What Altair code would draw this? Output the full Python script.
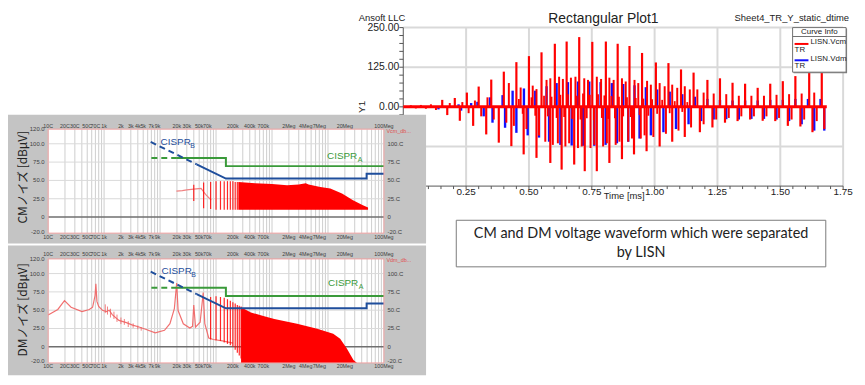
import altair as alt
import pandas as pd

# ------------------------------------------------------------------ DATA
# Transient waveform (top right): time [ms], voltage
vcm_pk_t = [0.155, 0.205, 0.253, 0.300, 0.350, 0.400, 0.450, 0.500, 0.550, 0.603, 0.650, 0.700, 0.752, 0.806, 0.853, 0.900, 0.950, 1.005, 1.055, 1.105, 1.155, 1.210, 1.260, 1.310, 1.360, 1.410, 1.460, 1.510, 1.560, 1.615, 1.665]
vcm_pk_v = [22, 28, 45, 64, 86, 111, 141, 160, 172, 199, 206, 220, 205, 206, 199, 192, 170, 140, 138, 118, 108, 85, 90, 76, 73, 60, 73, 81, 97, 112, 112]
vcm_tr_t = [0.175, 0.225, 0.278, 0.330, 0.380, 0.430, 0.479, 0.530, 0.585, 0.630, 0.680, 0.722, 0.770, 0.820, 0.870, 0.918, 0.968, 1.020, 1.070, 1.120, 1.180, 1.230, 1.280, 1.330, 1.380, 1.430, 1.480, 1.530, 1.580, 1.628, 1.675]
vcm_tr_v = [-26, -44, -60, -87, -113, -124, -150, -161, -177, -198, -182, -203, -203, -177, -165, -150, -140, -125, -110, -95, -80, -65, -50, -45, -40, -44, -45, -60, -62, -80, -70]
vcm_p2_t = [0.03, 0.07, 0.11, 0.185, 0.235, 0.285, 0.335, 0.42, 0.467, 0.515, 0.53, 0.57, 0.585, 0.62, 0.635, 0.667, 0.685, 0.72, 0.735, 0.77, 0.787, 0.82, 0.837, 0.87, 0.885, 0.92, 0.935, 0.97, 0.985, 1.02, 1.04, 1.07, 1.09, 1.12, 1.14, 1.17, 1.195, 1.235, 1.285, 1.335, 1.385, 1.435, 1.485, 1.535, 1.585, 1.635]
vcm_p2_v = [5, 6, 8, 12, 15, 20, 30, 75, 61, 67, 56, 85, 90, 95, 88, 92, 95, 90, 85, 95, 88, 92, 85, 90, 80, 85, 75, 82, 70, 75, 65, 70, 60, 65, 55, 55, 45, 42, 40, 35, 35, 35, 38, 40, 42, 45]
vcm_n2_t = [0.05, 0.09, 0.13, 0.26, 0.31, 0.36, 0.41, 0.44, 0.49, 0.54, 0.565, 0.595, 0.615, 0.645, 0.66, 0.695, 0.71, 0.745, 0.76, 0.795, 0.81, 0.845, 0.86, 0.895, 0.91, 0.945, 0.96, 0.995, 1.045, 1.095, 1.145, 1.195, 1.245, 1.295, 1.345, 1.395, 1.445, 1.495, 1.545, 1.595, 1.645]
vcm_n2_v = [-5, -6, -10, -20, -30, -40, -50, -60, -70, -90, -110, -120, -115, -125, -115, -130, -125, -130, -120, -125, -115, -120, -110, -110, -100, -100, -90, -95, -85, -75, -65, -55, -40, -35, -30, -30, -30, -35, -40, -40, -45]
vcm_ring_t = [0.46, 0.475, 0.51, 0.525, 0.56, 0.575, 0.59, 0.61, 0.625, 0.64, 0.655, 0.672, 0.69, 0.705, 0.715, 0.73, 0.742, 0.758, 0.775, 0.79, 0.8, 0.815, 0.828, 0.842, 0.858, 0.875, 0.89, 0.905, 0.925, 0.94, 0.955, 0.975, 0.99, 1.01, 1.03, 1.06, 1.08, 1.11, 1.13]
vcm_ring_v = [25, -22, 30, -28, 35, -30, 32, -35, 38, -32, 40, -38, 35, -40, 42, -36, 38, -42, 40, -35, 36, -38, 34, -36, 32, -30, 30, -32, 28, -26, 26, -28, 24, -22, 22, -20, 18, -16, 15]
vdm_p_t = [0.22, 0.27, 0.295, 0.345, 0.395, 0.435, 0.48, 0.525, 0.57, 0.61, 0.655, 0.695, 0.74, 0.785, 0.83, 0.875, 0.92, 0.965, 1.01, 1.06, 1.11, 1.16, 1.21, 1.26, 1.31, 1.36, 1.41, 1.46, 1.51, 1.56, 1.61, 1.66]
vdm_p_v = [8, 12, 16, 30, 37, 51, 58, 51, 65, 75, 78, 80, 80, 78, 75, 72, 68, 62, 55, 48, 40, 32, 25, 22, 20, 20, 20, 22, 22, 25, 25, 25]
vdm_n_t = [0.14, 0.23, 0.32, 0.355, 0.405, 0.45, 0.495, 0.54, 0.58, 0.625, 0.67, 0.715, 0.76, 0.805, 0.85, 0.895, 0.94, 0.985, 1.035, 1.085, 1.135, 1.185, 1.235, 1.285, 1.335, 1.385, 1.435, 1.485, 1.535, 1.585, 1.635, 1.675]
vdm_n_v = [-8, -12, -30, -50, -66, -82, -90, -97, -110, -120, -122, -123, -123, -120, -115, -110, -100, -90, -80, -70, -55, -45, -40, -39, -40, -38, -38, -40, -45, -55, -75, -75]
trace_t = [0.0, 1.685]
trace_v = [0.0, 0.0]
time_ticks = [0.25, 0.50, 0.75, 1.00, 1.25, 1.50, 1.75]
time_tick_labels = ["0.25", "0.50", "0.75", "1.00", "1.25", "1.50", "1.75"]
volt_ticks = [250, 125, 0]
volt_tick_labels = ["250.00", "125.00", "0.00"]

# Spectra (left): frequency [Hz], level [dBuV]
freq_ticks = [100, 200, 300, 500, 700, 1e3, 2e3, 3e3, 4e3, 5e3, 7e3, 9e3, 2e4, 3e4, 5e4, 7e4, 2e5, 4e5, 7e5, 2e6, 4e6, 7e6, 2e7, 1e8]
freq_tick_labels = ["10C", "20C", "30C", "50C", "70C", "1k", "2k", "3k", "4k", "5k", "7k", "9k", "20k", "30k", "50k", "70k", "200k", "400k", "700k", "2Meg", "4Meg", "7Meg", "20Meg", "100Meg"]
db_ticks_left = [120, 100, 75, 50, 25, 0, -20]
db_labels_left = ["120.0", "100.0", "75.0", "50.0", "25.0", "0", "-20.0"]
db_ticks_right = [100, 75, 50, 25, 0, -20]
db_labels_right = ["100.C", "75.C", "50.C", "25.C", "0", "-20.C"]

cm_trace_f = [19600, 25000, 30000, 40000, 54000, 65000, 82000]
cm_trace_db = [35.5, 36, 37, 38, 39, 31, 23]
cm_spike_f = [40000, 60000, 80000, 100000, 120000, 140000, 160000, 180000, 200000, 220000, 240000]
cm_spike_top = [44, 47, 48, 49, 49, 49, 49, 49, 49, 48, 48]
cm_spike_bot = [22, 12, 11, 10, 10, 10, 10, 10, 10, 10, 10]
cm_env_f = [250e3, 500e3, 1e6, 1.86e6, 3e6, 4e6, 4.5e6, 7.3e6, 11e6, 17.8e6, 28e6, 42e6, 52e6]
cm_env_db = [48, 46, 45, 43.5, 44.5, 46, 44.5, 41, 39, 32, 23, 16, 13]
CM_FLOOR = 10

dm_f = [100, 149, 196, 257, 403, 543, 623, 690, 713, 745, 800, 934, 1100, 1230, 1400, 1840, 2500, 3140, 4200, 5500, 8200, 12000, 15000, 18000, 19800, 21000, 26000, 34000, 38000, 40000, 43000, 52000, 59000, 63000, 74000, 90000, 130000, 200000]
dm_db = [43.5, 51, 63, 54, 48, 51, 54, 70, 86, 62, 55, 50, 48, 50, 44, 36, 33, 30, 27, 24, 19, 22.5, 31.5, 52, 87, 49.5, 31.5, 25.6, 28, 57, 27, 33.6, 74, 31.5, 12, 10, 8, 5]
dm_noise_f = [1050, 1150, 1300, 1500, 1700, 2000, 2300, 2700, 3300, 4000, 4600]
dm_noise_top = [58, 55, 52, 48, 44, 40, 38, 35, 32, 29, 27]
dm_noise_bot = [46, 44, 40, 38, 34, 31, 30, 27, 26, 24, 22]
dm_spike_f = [80e3, 100e3, 120e3, 140e3, 160e3, 180e3, 200e3, 220e3, 240e3, 260e3, 280e3]
dm_spike_top = [68, 69, 68, 67, 65, 63, 61, 59, 57, 56, 55]
dm_spike_bot = [10, 9, 8, 6, 4, 2, 0, -4, -8, -12, -16]
dm_env_f = [280e3, 420e3, 700e3, 1.1e6, 2.8e6, 6.4e6, 12.4e6, 16.5e6, 21.7e6, 28.5e6, 33e6]
dm_env_db = [54, 47, 42, 38, 31.5, 24.7, 18, 11, -2.3, -18, -22]
DM_FLOOR = -22

cisprA_dash_f = [7000, 20000]
cisprA_dash_db = [80.5, 80.5]
cisprA_f = [20000, 150000, 150000, 1e8]
cisprA_db = [80.5, 80.5, 69.5, 69.5]
cisprB_dash_f = [6800, 45000]
cisprB_dash_db = [102.5, 72]
cisprB_f = [45000, 150000, 49e6, 49e6, 1e8]
cisprB_db = [72, 52.5, 52.5, 59, 59]

# ------------------------------------------------------------------ STYLE / LAYOUT
FONT = "Liberation Sans"
RED = "#ff0000"
BLUE = "#1010ff"
GREEN = "#3a9a3a"
NAVY = "#1f4e9c"

T_SCALE = alt.Scale(domain=[0, 1.75], range=[399, 843], nice=False, zero=False)
V_SCALE = alt.Scale(domain=[-250, 250], range=[178, 18], nice=False, zero=False)
F_SCALE = alt.Scale(type="log", domain=[100, 1e8], range=[40.5, 379.5], nice=False)
CM_Y = alt.Scale(domain=[-22, 120], range=[225.5, 120.5], nice=False, zero=False)
DM_Y = alt.Scale(domain=[-22, 120], range=[356.5, 251.5], nice=False, zero=False)


def qx(field, scale):
    return alt.X(field, type="quantitative", scale=scale, axis=None)


def qy(field, scale):
    return alt.Y(field, type="quantitative", scale=scale, axis=None)


def one():
    return pd.DataFrame({"k": [0]})


def rect(x, x2, y, y2, fill="white", stroke=None, sw=1.0, fill_opacity=1.0):
    props = dict(fill=fill, fillOpacity=fill_opacity)
    if stroke is not None:
        props.update(stroke=stroke, strokeWidth=sw)
    return alt.Chart(one()).mark_rect(**props).encode(
        x=alt.value(x), x2=alt.value(x2), y=alt.value(y), y2=alt.value(y2))


def seg(x, x2, y, y2, color, sw=1.0):
    return alt.Chart(one()).mark_rule(color=color, strokeWidth=sw).encode(
        x=alt.value(x), x2=alt.value(x2), y=alt.value(y), y2=alt.value(y2))


def label(s, x, y, size, color="#222222", align="left", angle=0, font=FONT, baseline="middle"):
    return alt.Chart(pd.DataFrame({"s": [s]})).mark_text(
        align=align, baseline=baseline, fontSize=size, color=color, angle=angle, font=font
    ).encode(x=alt.value(x), y=alt.value(y), text="s:N")


def xlabels(vals, labels, scale, y, size, color="#333333"):
    df = pd.DataFrame({"v": vals, "s": labels})
    return alt.Chart(df).mark_text(align="center", baseline="middle", fontSize=size, color=color, font=FONT).encode(
        x=qx("v", scale), y=alt.value(y), text="s:N")


def ylabels(vals, labels, scale, x, size, align, color="#333333"):
    df = pd.DataFrame({"v": vals, "s": labels})
    return alt.Chart(df).mark_text(align=align, baseline="middle", fontSize=size, color=color, font=FONT).encode(
        x=alt.value(x), y=qy("v", scale), text="s:N")


def vgrid(vals, scale, y, y2, color, sw=1.0):
    return alt.Chart(pd.DataFrame({"v": vals})).mark_rule(color=color, strokeWidth=sw).encode(
        x=qx("v", scale), y=alt.value(y), y2=alt.value(y2))


def hgrid(vals, scale, x, x2, color, sw=1.0):
    return alt.Chart(pd.DataFrame({"v": vals})).mark_rule(color=color, strokeWidth=sw).encode(
        y=qy("v", scale), x=alt.value(x), x2=alt.value(x2))


def spikes(xs, ys, xscale, yscale, color, sw, base=None, bottoms=None, opacity=1.0):
    df = pd.DataFrame({"x": xs, "y": ys})
    if bottoms is not None:
        df["b"] = bottoms
        y2 = alt.Y2("b")
    else:
        y2 = alt.datum(base)
    return alt.Chart(df).mark_rule(color=color, strokeWidth=sw, opacity=opacity).encode(
        x=qx("x", xscale), y=qy("y", yscale), y2=y2)


def line(xs, ys, xscale, yscale, color, sw, dash=None, opacity=1.0):
    df = pd.DataFrame({"x": xs, "y": ys, "i": list(range(len(xs)))})
    props = dict(color=color, strokeWidth=sw, opacity=opacity)
    if dash:
        props["strokeDash"] = dash
    return alt.Chart(df).mark_line(**props).encode(
        x=qx("x", xscale), y=qy("y", yscale), order="i:Q")


def area(xs, ys, floor, xscale, yscale, color):
    df = pd.DataFrame({"x": xs, "y": ys})
    return alt.Chart(df).mark_area(color=color).encode(
        x=qx("x", xscale), y=qy("y", yscale), y2=alt.datum(floor))


L = []

# ------------------------------------------------------------------ TOP RIGHT: transient plot
minor_v = [-250 + 25 * i for i in range(21)]
minor_t = [0.05 * i for i in range(36)]
L.append(vgrid(time_ticks, T_SCALE, 18, 178, "#d9d9d9", 2))
L.append(hgrid([250, 125, -125], V_SCALE, 399, 843, "#d9d9d9", 2))
L.append(alt.Chart(pd.DataFrame({"v": minor_v})).mark_rule(color="#555555", strokeWidth=1).encode(
    y=qy("v", V_SCALE), x=alt.value(395), x2=alt.value(399)))
L.append(alt.Chart(pd.DataFrame({"v": minor_t})).mark_rule(color="#555555", strokeWidth=1).encode(
    x=qx("v", T_SCALE), y=alt.value(178), y2=alt.value(181)))
L.append(seg(399, 399, 18, 178, "#555555", 1))
L.append(seg(399, 843, 178, 178, "#555555", 1))
L.append(ylabels(volt_ticks, volt_tick_labels, V_SCALE, 395, 10.5, "right", "#222222"))
L.append(xlabels(time_ticks, time_tick_labels, T_SCALE, 184, 10, "#222222"))
L.append(label("Time [ms]", 622, 188, 9.5, align="center"))
L.append(label("Y1", 357, 98, 10, align="center", angle=270))
L.append(label("Rectangular Plot1", 601, 9, 14, align="center"))
L.append(label("Ansoft LLC", 354, 8, 9.5))
L.append(label("Sheet4_TR_Y_static_dtime", 849, 8, 9.5, align="right"))

L.append(spikes(vdm_p_t, vdm_p_v, T_SCALE, V_SCALE, BLUE, 2.4, base=0))
L.append(spikes(vdm_n_t, vdm_n_v, T_SCALE, V_SCALE, BLUE, 2.4, base=0))
L.append(spikes(vcm_ring_t, vcm_ring_v, T_SCALE, V_SCALE, RED, 1.8, base=0))
L.append(spikes(vcm_p2_t, vcm_p2_v, T_SCALE, V_SCALE, RED, 2.0, base=0))
L.append(spikes(vcm_n2_t, vcm_n2_v, T_SCALE, V_SCALE, RED, 2.0, base=0))
L.append(spikes(vcm_pk_t, vcm_pk_v, T_SCALE, V_SCALE, RED, 2.2, base=0))
L.append(spikes(vcm_tr_t, vcm_tr_v, T_SCALE, V_SCALE, RED, 2.2, base=0))
L.append(line(trace_t, trace_v, T_SCALE, V_SCALE, RED, 3))

# legend box
L.append(rect(793, 847, 19, 64, fill="#808080"))
L.append(rect(792, 846, 18, 63, fill="white", stroke="#707070", sw=1))
L.append(seg(792, 846, 27, 27, "#707070", 1))
L.append(label("Curve Info", 819, 22.5, 8, align="center"))
L.append(seg(794, 808, 34.5, 34.5, RED, 2))
L.append(label("LISN.Vcm", 810, 32.5, 8))
L.append(label("TR", 794, 40.5, 8))
L.append(seg(794, 808, 51, 51, BLUE, 2))
L.append(label("LISN.Vdm", 810, 49.5, 8))
L.append(label("TR", 794, 57, 8))

# ------------------------------------------------------------------ LEFT: spectra panels
freq_grid = [m * 10 ** e for e in range(2, 8) for m in range(1, 10)] + [1e8]


def spectrum_frame(panel_top, panel_bot, plot_top, plot_bot, yscale, top_lab_y, bot_lab_y, title, title_y, sig):
    out = []
    out.append(rect(0, 422, panel_top, panel_bot, fill="#c4c4c4"))
    out.append(rect(40.5, 379.5, plot_top, plot_bot, fill="white"))
    out.append(vgrid(freq_grid, F_SCALE, plot_top, plot_bot, "#d2d2d2", 1.1))
    out.append(hgrid([100, 75, 50, 25], yscale, 40.5, 379.5, "#dadada", 1))
    out.append(hgrid([0], yscale, 40.5, 379.5, "#6f6f6f", 1.4))
    out.append(xlabels(freq_ticks, freq_tick_labels, F_SCALE, top_lab_y, 5.4, "#404040"))
    out.append(xlabels(freq_ticks, freq_tick_labels, F_SCALE, bot_lab_y, 5.4, "#404040"))
    out.append(ylabels(db_ticks_left, db_labels_left, yscale, 37, 6, "right", "#404040"))
    out.append(ylabels(db_ticks_right, db_labels_right, yscale, 383, 6, "left", "#404040"))
    out.append(label(sig, 382, plot_top + 1.5, 5.5, color="#e05050"))
    out.append(label(title, 15, title_y, 12, color="#222222", align="center", angle=270, font="Noto Sans CJK JP"))
    return out


def cispr(yscale, lab_b, lab_a):
    out = []
    out.append(line(cisprA_dash_f, cisprA_dash_db, F_SCALE, yscale, GREEN, 2, dash=[6, 4]))
    out.append(line(cisprA_f, cisprA_db, F_SCALE, yscale, GREEN, 2))
    out.append(line(cisprB_dash_f, cisprB_dash_db, F_SCALE, yscale, NAVY, 2, dash=[6, 4]))
    out.append(line(cisprB_f, cisprB_db, F_SCALE, yscale, NAVY, 2))
    out.append(label("CISPR", lab_b[0], lab_b[1], 10, color=NAVY))
    out.append(label("B", lab_b[0] + 30, lab_b[1] + 4, 7, color=NAVY))
    out.append(label("CISPR", lab_a[0], lab_a[1], 10, color=GREEN))
    out.append(label("A", lab_a[0] + 31, lab_a[1] + 4, 7, color=GREEN))
    return out


# CM panel
L += spectrum_frame(106, 236, 120.5, 225.5, CM_Y, 117, 229, "CMノイズ [dBμV]", 169, "Vcm_db...")
L.append(line(cm_trace_f, cm_trace_db, F_SCALE, CM_Y, "#f08080", 1.2))
L.append(spikes(cm_spike_f, cm_spike_top, F_SCALE, CM_Y, RED, 1.2, bottoms=cm_spike_bot, opacity=0.85))
L.append(area(cm_env_f, cm_env_db, CM_FLOOR, F_SCALE, CM_Y, RED))
L += cispr(CM_Y, (154, 134), (322, 148))
L.append(rect(40.5, 379.5, 120.5, 225.5, fill="white", fill_opacity=0, stroke="#f0a0a0", sw=1))

# DM panel
L += spectrum_frame(238, 369, 251.5, 356.5, DM_Y, 247, 360, "DMノイズ [dBμV]", 303, "Vdm_db...")
L.append(line(dm_f, dm_db, F_SCALE, DM_Y, "#f06060", 1.2, opacity=0.9))
L.append(spikes(dm_noise_f, dm_noise_top, F_SCALE, DM_Y, "#f06060", 1, bottoms=dm_noise_bot, opacity=0.8))
L.append(spikes(dm_spike_f, dm_spike_top, F_SCALE, DM_Y, RED, 1.2, bottoms=dm_spike_bot, opacity=0.85))
L.append(area(dm_env_f, dm_env_db, DM_FLOOR, F_SCALE, DM_Y, RED))
L += cispr(DM_Y, (155, 264), (323, 276))
L.append(rect(40.5, 379.5, 251.5, 356.5, fill="white", fill_opacity=0, stroke="#f0a0a0", sw=1))

# ------------------------------------------------------------------ caption box
L.append(rect(452.5, 825.5, 212.5, 259.5, fill="white", stroke="#7a7a7a", sw=1))
L.append(label("CM and DM voltage waveform which were separated", 639, 226, 14.5, align="center", font="Lato"))
L.append(label("by LISN", 639, 245.5, 14.5, align="center", font="Lato"))

chart = alt.layer(*L).resolve_scale(x="independent", y="independent").properties(
    width=857, height=377, autosize=alt.AutoSizeParams(type="none"), padding=0, background="white"
).configure_view(stroke=None)

chart.save("out.html", embed_options={"renderer": "svg", "actions": False})
